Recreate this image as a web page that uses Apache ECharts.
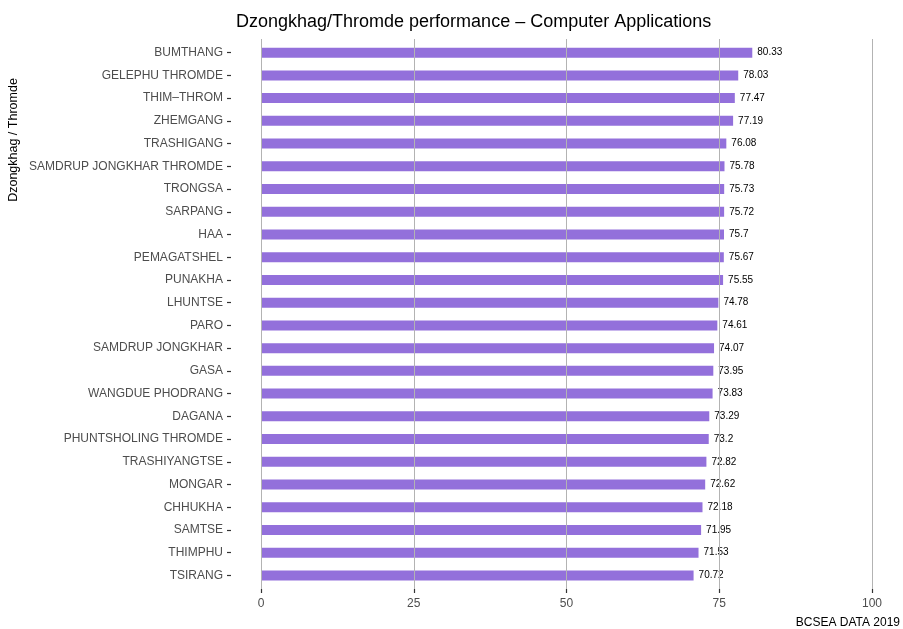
<!DOCTYPE html>
<html>
<head>
<meta charset="utf-8">
<script src="https://cdn.jsdelivr.net/npm/echarts@6/dist/echarts.min.js"></script>
<style>
  html, body { margin: 0; padding: 0; background: #fff; }
  #chart { width: 903px; height: 629px; }
</style>
</head>
<body>
<div id="chart"></div>
<script>
const categories = [
  'BUMTHANG', 'GELEPHU THROMDE', 'THIM\u2013THROM', 'ZHEMGANG', 'TRASHIGANG',
  'SAMDRUP JONGKHAR THROMDE', 'TRONGSA', 'SARPANG', 'HAA', 'PEMAGATSHEL',
  'PUNAKHA', 'LHUNTSE', 'PARO', 'SAMDRUP JONGKHAR', 'GASA',
  'WANGDUE PHODRANG', 'DAGANA', 'PHUNTSHOLING THROMDE', 'TRASHIYANGTSE', 'MONGAR',
  'CHHUKHA', 'SAMTSE', 'THIMPHU', 'TSIRANG'
]
const scores = [
  80.33, 78.03, 77.47, 77.19, 76.08,
  75.78, 75.73, 75.72, 75.7, 75.67,
  75.55, 74.78, 74.61, 74.07, 73.95,
  73.83, 73.29, 73.2, 72.82, 72.62,
  72.18, 71.95, 71.53, 70.72
]
const xTicks = [0, 25, 50, 75, 100]

const font = 'Liberation Sans, Arial, Helvetica, sans-serif'
const chart = echarts.init(document.getElementById('chart'))

const option = {
  animation: false,
  textStyle: { fontFamily: font },
  title: {
    text: 'Dzongkhag/Thromde performance \u2013 Computer Applications',
    left: 231,
    top: 8,
    textStyle: { fontSize: 18, fontWeight: 'normal', color: '#000', fontFamily: font }
  },
  grid: [
    // panel for bars, padded like ggplot's expansion (-5..105)
    { left: 231, right: 0, top: 41.3, bottom: 42.2 },
    // panel for gridlines / tick labels (0..100)
    { left: 261, right: 31, top: 39, bottom: 40 }
  ],
  xAxis: [
    { type: 'value', gridIndex: 0, min: -5, max: 105, show: false },
    {
      type: 'value',
      gridIndex: 1,
      min: xTicks[0],
      max: xTicks[xTicks.length - 1],
      interval: 25,
      z: 5,
      axisLine: { show: false },
      axisTick: { show: true, length: 4, lineStyle: { color: '#333', width: 1.2 } },
      axisLabel: { color: '#4d4d4d', fontSize: 12, margin: 9 },
      splitLine: { show: true, lineStyle: { color: '#b3b3b3', width: 1 } }
    }
  ],
  yAxis: [
    {
      type: 'category',
      gridIndex: 0,
      data: categories,
      inverse: true,
      axisLine: { show: false, onZero: false },
      axisTick: { show: true, alignWithLabel: true, length: 4, lineStyle: { color: '#333', width: 1.2 } },
      axisLabel: { color: '#4d4d4d', fontSize: 12, margin: 8 },
      splitLine: { show: false }
    },
    { type: 'value', gridIndex: 1, show: false, min: 0, max: 1 }
  ],
  series: [
    {
      type: 'bar',
      xAxisIndex: 0,
      yAxisIndex: 0,
      data: scores,
      barWidth: 10,
      itemStyle: { color: '#9370DB' },
      label: {
        show: true,
        position: 'right',
        distance: 5,
        color: '#000',
        fontSize: 10
      }
    }
  ],
  graphic: [
    {
      type: 'text',
      x: 14,
      y: 140,
      rotation: Math.PI / 2,
      style: {
        text: 'Dzongkhag / Thromde',
        fontSize: 12.5,
        fill: '#000',
        fontFamily: font,
        textAlign: 'center',
        textVerticalAlign: 'middle'
      }
    },
    {
      type: 'text',
      right: 3,
      top: 617,
      style: {
        text: 'BCSEA DATA 2019',
        fontSize: 12,
        fill: '#000',
        fontFamily: font
      }
    }
  ]
}

chart.setOption(option)
window.addEventListener('resize', () => chart.resize())
</script>
</body>
</html>
